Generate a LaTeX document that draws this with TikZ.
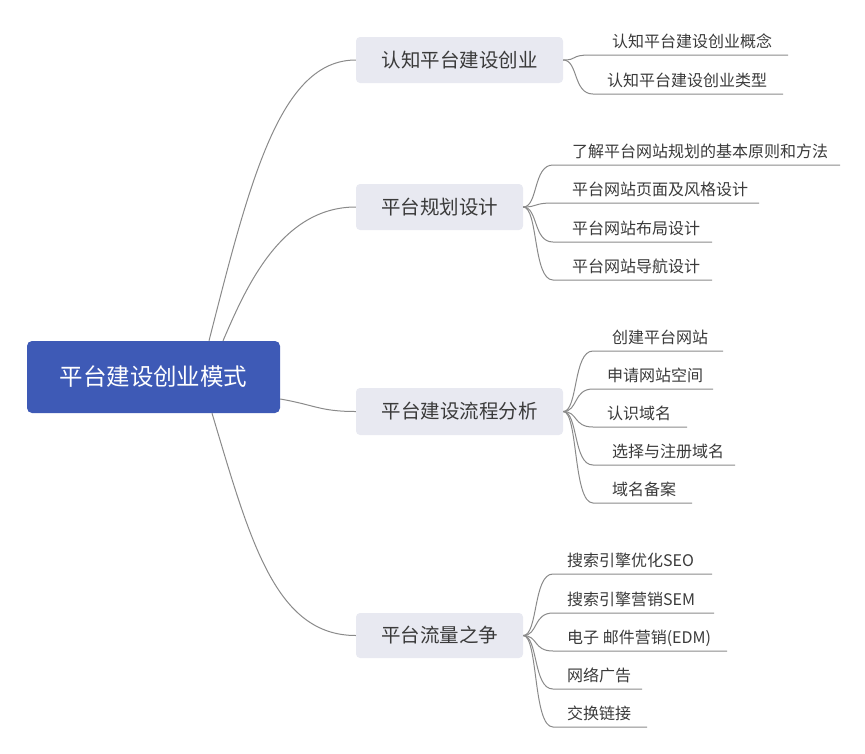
\documentclass[tikz,border=0pt]{standalone}
\usepackage{fontspec}
\setmainfont{Noto Sans CJK SC}
\definecolor{rootblue}{HTML}{3E5AB6}
\definecolor{branchfill}{HTML}{E8E9F1}
\definecolor{linegray}{HTML}{8A8A8A}
\definecolor{txtgray}{HTML}{3A3A3A}
\tikzset{
  rootbox/.style={fill=rootblue, rounded corners=5pt, inner sep=0pt, text=white,
    font=\fontsize{23.5pt}{24pt}\selectfont, text height=20.68pt, text depth=2.82pt},
  branchbox/.style={fill=branchfill, rounded corners=4pt, inner sep=0pt, text=txtgray,
    font=\fontsize{19.5pt}{20pt}\selectfont, text height=17.16pt, text depth=2.34pt},
  leaf/.style={anchor=west, inner sep=0pt, text=txtgray,
    font=\fontsize{16pt}{17pt}\selectfont, text height=14.08pt, text depth=1.92pt},
  conn/.style={draw=linegray, line width=1pt}
}
\newcommand\leafitem[7]{%
  \node[leaf] (#2) at (#6,#4-13.5) {#7};
  \coordinate (#2s) at (#3,#4);
  \coordinate (#2e) at (#5,#4);
  \draw[conn] (#1.east) .. controls +(15,0) and +(-20,0) .. (#2s) -- (#2e);
}
\begin{document}
\begin{tikzpicture}[x=1pt,y=-1pt]
\useasboundingbox (0,0) rectangle (865,753);
% root
\node[rootbox, minimum width=253pt, minimum height=72pt] (root) at (153.5,377) {平台建设创业模式};
% branches
\node[branchbox, minimum width=207pt, minimum height=46pt] (b1) at (459.5,60) {认知平台建设创业};
\node[branchbox, minimum width=167pt, minimum height=46pt] (b2) at (439.5,207) {平台规划设计};
\node[branchbox, minimum width=207pt, minimum height=47pt] (b3) at (459.5,411.5) {平台建设流程分析};
\node[branchbox, minimum width=167pt, minimum height=45pt] (b4) at (439.5,635.5) {平台流量之争};
% root connectors
\coordinate (r1) at ([xshift=55.5pt]root.north);
\coordinate (r2) at ([xshift=69.5pt]root.north);
\coordinate (r3) at ([yshift=-22pt]root.east);
\coordinate (r4) at ([xshift=58.5pt]root.south);
\draw[conn] (r1) .. controls (250,180) and (280,60) .. (b1.west);
\draw[conn] (r2) .. controls (245,290) and (280,207) .. (b2.west);
\draw[conn] (r3) .. controls (315,405) and (320,411.5) .. (b3.west);
\draw[conn] (r4) .. controls (250,540) and (275,635.5) .. (b4.west);
% branch 1 leaves
\leafitem{b1}{l11}{590}{55}{788}{612}{认知平台建设创业概念}
\leafitem{b1}{l12}{593}{94}{783}{607}{认知平台建设创业类型}
% branch 2 leaves
\leafitem{b2}{l21}{553}{165}{840}{572}{了解平台网站规划的基本原则和方法}
\leafitem{b2}{l22}{553}{203}{759}{572}{平台网站页面及风格设计}
\leafitem{b2}{l23}{553}{242}{712}{572}{平台网站布局设计}
\leafitem{b2}{l24}{553}{280}{712}{572}{平台网站导航设计}
% branch 3 leaves
\leafitem{b3}{l31}{593}{351}{723}{612}{创建平台网站}
\leafitem{b3}{l32}{593}{389}{713}{607}{申请网站空间}
\leafitem{b3}{l33}{593}{427}{687}{607}{认识域名}
\leafitem{b3}{l34}{593}{465}{735}{612}{选择与注册域名}
\leafitem{b3}{l35}{593}{503}{692}{612}{域名备案}
% branch 4 leaves
\leafitem{b4}{l41}{553}{574}{712}{567}{搜索引擎优化SEO}
\leafitem{b4}{l42}{553}{613}{714}{567}{搜索引擎营销SEM}
\leafitem{b4}{l43}{553}{651}{727}{567}{电子 邮件营销(EDM)}
\leafitem{b4}{l44}{553}{689}{642}{567}{网络广告}
\leafitem{b4}{l45}{553}{727}{647}{567}{交换链接}
\end{tikzpicture}
\end{document}
